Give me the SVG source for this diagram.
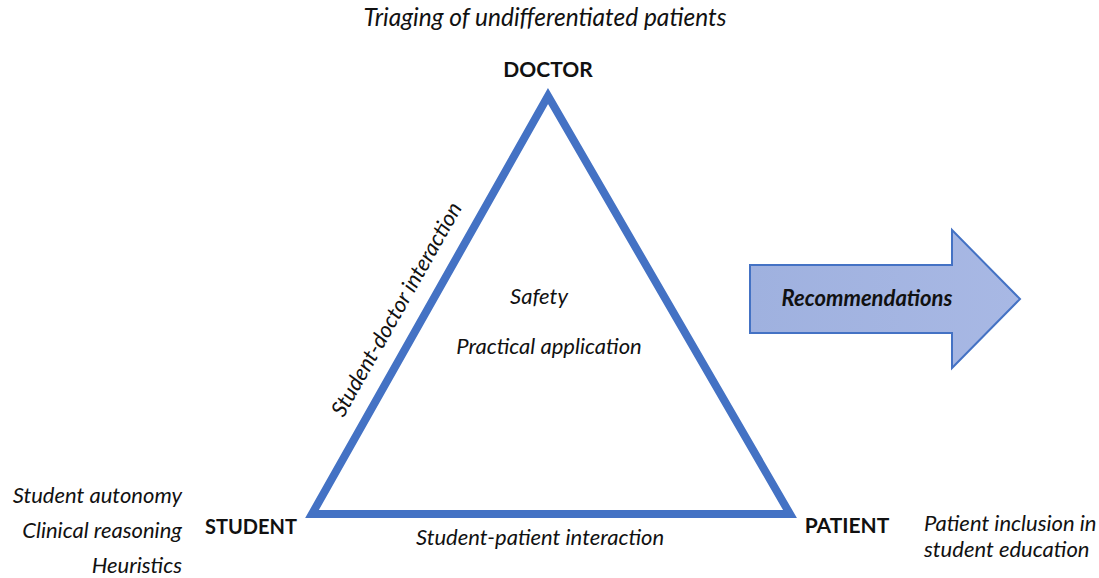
<svg xmlns="http://www.w3.org/2000/svg" width="1099" height="578" viewBox="0 0 1099 578">
<style>
.it{font-family:Lato,"Open Sans","Liberation Sans",sans-serif;font-style:italic;font-size:22px;fill:#111}
.bd{font-family:Lato,"Open Sans","Liberation Sans",sans-serif;font-weight:bold;font-size:21px;fill:#111}
</style>
<defs>
<linearGradient id="g" x1="0" y1="0" x2="1" y2="0">
<stop offset="0" stop-color="#9fb1df"/>
<stop offset="1" stop-color="#a8b8e4"/>
</linearGradient>
</defs>
<rect width="1099" height="578" fill="#fff"/>
<g id="connectors">
<polygon points="548,96 790,514 312,514" fill="none" stroke="#4472c4" stroke-width="8" stroke-linejoin="miter"/>
</g>
<g id="doctor">
<text class="bd" x="548" y="77" text-anchor="middle">DOCTOR</text>
<text class="it" x="545" y="26" text-anchor="middle" style="font-size:24.5px">Triaging of undifferentiated patients</text>
</g>
<g id="student">
<text class="bd" x="251" y="534" text-anchor="middle" style="font-size:20px">STUDENT</text>
<text class="it" x="182" y="503" text-anchor="end">Student autonomy</text>
<text class="it" x="182" y="538" text-anchor="end">Clinical reasoning</text>
<text class="it" x="182" y="573" text-anchor="end">Heuristics</text>
</g>
<g id="patient">
<text class="bd" x="847" y="533" text-anchor="middle">PATIENT</text>
<text class="it" x="924" y="531">Patient inclusion in</text>
<text class="it" x="924" y="557">student education</text>
</g>
<g id="center">
<text class="it" x="539" y="304" text-anchor="middle">Safety</text>
<text class="it" x="549" y="354" text-anchor="middle">Practical application</text>
</g>
<g id="edge-labels">
<text class="it" x="0" y="0" text-anchor="middle" transform="translate(403,313) rotate(-60.5)">Student-doctor interaction</text>
<text class="it" x="540" y="545" text-anchor="middle">Student-patient interaction</text>
</g>
<g id="recommendations">
<polygon points="750,265 952,265 952,230 1020,299 952,368 952,333 750,333" fill="url(#g)" stroke="#4472c4" stroke-width="2"/>
<text class="it" x="867" y="306" text-anchor="middle" style="font-weight:bold">Recommendations</text>
</g>
</svg>
